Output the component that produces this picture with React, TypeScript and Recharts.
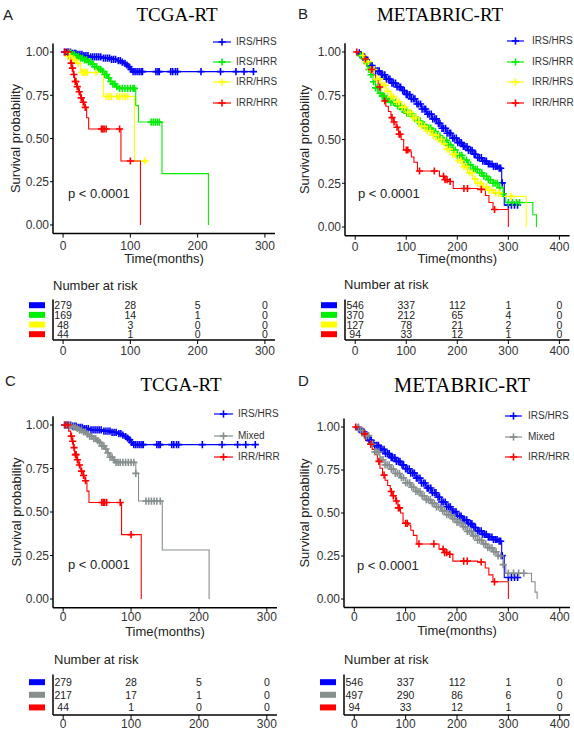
import React from 'react';
import { ComposedChart, Line, Scatter, XAxis, YAxis } from 'recharts';

type Pt = [number, number];

// ---- TCGA-RT: step points [time, survival] and censor times ----
const tcgaIrsHrsSteps: Pt[] = [
  [0, 1], [14, 0.993], [22, 0.986], [30, 0.979], [40, 0.972], [58, 0.965], [70, 0.958],
  [80, 0.95], [86, 0.942], [90, 0.934], [93, 0.925], [96, 0.915], [99, 0.9], [102, 0.887], [283, 0.887],
];
const tcgaIrsHrsCensor = [
  2, 5, 8, 11, 14, 17, 19, 22, 25, 28, 31, 34, 37, 41, 44, 47, 50, 53, 56, 60, 63, 66, 69, 72, 75,
  78, 82, 85, 88, 92, 95, 98, 101, 104, 107, 110, 113, 116, 118, 138, 141, 143, 160, 163, 167, 170,
  205, 234, 257, 269, 283,
];
const tcgaIrsHrrSteps: Pt[] = [
  [0, 1], [6, 0.994], [12, 0.985], [18, 0.975], [24, 0.965], [30, 0.955], [36, 0.943], [42, 0.93],
  [47, 0.915], [52, 0.9], [57, 0.888], [62, 0.87], [66, 0.85], [70, 0.83], [74, 0.815], [78, 0.8],
  [82, 0.79], [108, 0.69], [112, 0.595], [147, 0.297], [216, 0],
];
const tcgaIrsHrrCensor = [
  8, 11, 14, 17, 20, 23, 26, 29, 32, 35, 38, 41, 44, 47, 50, 53, 56, 59, 62, 65, 68, 71, 74, 77,
  80, 84, 88, 92, 96, 100, 104, 106, 131, 134, 137, 140, 143,
];
const tcgaIrrHrsSteps: Pt[] = [
  [0, 1], [5, 0.978], [12, 0.957], [20, 0.935], [26, 0.882], [60, 0.743], [106, 0.37], [122, 0.37],
];
const tcgaIrrHrsCensor = [7, 10, 14, 17, 22, 28, 31, 34, 36, 49, 64, 68, 72, 80, 84, 88, 92, 96, 122];
const tcgaIrrHrrSteps: Pt[] = [
  [0, 1], [8, 0.965], [11, 0.936], [13, 0.907], [15, 0.87], [17, 0.83], [20, 0.8], [23, 0.77],
  [26, 0.735], [29, 0.71], [32, 0.68], [35, 0.62], [38, 0.555], [86, 0.37], [115, 0],
];
const tcgaIrrHrrCensor = [3, 7, 12, 14, 16, 18, 19, 21, 24, 27, 30, 33, 57, 59, 61, 64, 84, 100];
const tcgaMixedSteps: Pt[] = [
  [0, 1], [8, 0.995], [14, 0.988], [19, 0.98], [24, 0.97], [29, 0.96], [34, 0.948], [39, 0.935],
  [44, 0.922], [49, 0.91], [53, 0.9], [57, 0.88], [61, 0.862], [65, 0.84], [69, 0.815], [73, 0.8],
  [77, 0.785], [107, 0.722], [111, 0.563], [146, 0.282], [215, 0],
];
const tcgaMixedCensor = [
  3, 6, 9, 12, 15, 18, 21, 24, 27, 30, 33, 36, 39, 42, 45, 48, 51, 54, 57, 60, 63, 66, 69, 72, 75,
  78, 81, 84, 88, 92, 96, 100, 104, 107, 122, 126, 130, 134, 138, 143,
];

// ---- METABRIC-RT ----
const metaIrsHrsSteps: Pt[] = [
  [0, 1], [5, 0.995], [10, 0.985], [15, 0.97], [20, 0.955], [25, 0.94], [30, 0.922], [35, 0.905],
  [40, 0.893], [50, 0.87], [60, 0.845], [70, 0.822], [80, 0.8], [90, 0.78], [100, 0.757],
  [110, 0.732], [120, 0.703], [130, 0.674], [140, 0.645], [150, 0.618], [160, 0.592], [170, 0.564],
  [180, 0.536], [190, 0.508], [200, 0.482], [210, 0.46], [220, 0.438], [230, 0.416], [240, 0.396],
  [250, 0.376], [260, 0.36], [270, 0.346], [280, 0.336], [287, 0.252], [292, 0.125], [320, 0.125],
];
const metaIrsHrsCensor = [
  8, 11, 15, 19, 22, 26, 30, 33, 37, 40, 44, 47, 51, 54, 58, 61, 65, 68, 72, 75, 79, 82, 86, 89,
  93, 96, 100, 103, 107, 110, 114, 117, 121, 124, 128, 131, 135, 138, 142, 145, 149, 152, 156,
  159, 163, 166, 170, 173, 177, 180, 184, 187, 191, 194, 198, 201, 205, 208, 212, 215, 219, 222,
  226, 229, 233, 236, 240, 243, 247, 250, 254, 257, 261, 264, 268, 271, 275, 278, 282, 285, 288,
  300, 306, 312, 318,
];
const metaIrsHrrSteps: Pt[] = [
  [0, 1], [10, 0.98], [15, 0.96], [20, 0.935], [25, 0.9], [30, 0.87], [35, 0.83], [40, 0.795],
  [45, 0.765], [50, 0.748], [60, 0.73], [70, 0.712], [80, 0.692], [90, 0.672], [100, 0.65],
  [110, 0.628], [120, 0.606], [130, 0.585], [140, 0.565], [150, 0.545], [160, 0.52], [170, 0.495],
  [180, 0.468], [190, 0.44], [200, 0.41], [210, 0.382], [220, 0.355], [230, 0.33], [240, 0.31],
  [250, 0.29], [260, 0.27], [270, 0.25], [280, 0.225], [290, 0.19], [295, 0.14], [342, 0.14],
  [348, 0.07], [355, 0],
];
const metaIrsHrrCensor = [
  10, 14, 18, 23, 27, 31, 36, 40, 44, 49, 53, 57, 62, 66, 70, 75, 79, 83, 88, 92, 96, 101, 105,
  109, 114, 118, 122, 127, 131, 135, 140, 144, 148, 153, 157, 161, 166, 170, 174, 179, 183, 187,
  192, 196, 200, 205, 209, 213, 218, 222, 226, 231, 235, 239, 244, 248, 252, 257, 261, 265, 270,
  274, 278, 283, 290, 300, 308, 316, 322,
];
const metaIrrHrsSteps: Pt[] = [
  [0, 1], [10, 0.98], [20, 0.945], [30, 0.9], [40, 0.845], [50, 0.81], [60, 0.775], [70, 0.745],
  [80, 0.715], [90, 0.685], [100, 0.655], [110, 0.625], [120, 0.6], [130, 0.575], [140, 0.55],
  [150, 0.525], [160, 0.5], [170, 0.475], [180, 0.445], [190, 0.415], [200, 0.38], [210, 0.345],
  [220, 0.31], [230, 0.275], [240, 0.25], [250, 0.23], [260, 0.21], [270, 0.195], [285, 0.175],
  [335, 0],
];
const metaIrrHrsCensor = [
  15, 20, 26, 31, 37, 42, 48, 53, 59, 64, 70, 75, 81, 86, 92, 97, 103, 108, 114, 119, 125, 130,
  136, 141, 147, 152, 158, 163, 169, 174, 180, 185, 191, 196, 202, 207, 213, 218, 224, 229, 235,
  240, 246, 251, 257, 262, 268, 275, 282, 305,
];
const metaIrrHrrSteps: Pt[] = [
  [0, 1], [12, 0.99], [18, 0.96], [22, 0.92], [28, 0.9], [35, 0.87], [40, 0.84], [45, 0.8],
  [50, 0.76], [55, 0.72], [60, 0.69], [65, 0.66], [70, 0.625], [75, 0.6], [80, 0.57], [85, 0.53],
  [90, 0.5], [95, 0.44], [105, 0.43], [110, 0.4], [115, 0.37], [122, 0.32], [155, 0.32],
  [165, 0.29], [175, 0.27], [185, 0.26], [192, 0.22], [240, 0.215], [255, 0.18], [262, 0.14],
  [270, 0.1], [300, 0],
];
const metaIrrHrrCensor = [
  3, 20, 32, 48, 58, 72, 76, 82, 86, 88, 100, 103, 126, 155, 173, 176, 180, 186, 213, 220, 247, 273,
];
const metaMixedSteps: Pt[] = [
  [0, 1], [10, 0.98], [20, 0.95], [30, 0.9], [40, 0.855], [50, 0.81], [60, 0.78], [70, 0.755],
  [80, 0.73], [90, 0.705], [100, 0.675], [110, 0.65], [120, 0.625], [130, 0.6], [140, 0.578],
  [150, 0.556], [160, 0.535], [170, 0.512], [180, 0.49], [190, 0.467], [200, 0.445], [210, 0.42],
  [220, 0.393], [230, 0.367], [240, 0.342], [250, 0.32], [260, 0.298], [270, 0.275], [280, 0.25],
  [290, 0.2], [295, 0.15], [335, 0.15], [345, 0.1], [352, 0.04], [356, 0],
];
const metaMixedCensor = [
  8, 12, 16, 20, 24, 28, 32, 36, 40, 44, 48, 52, 56, 60, 64, 68, 72, 76, 80, 84, 88, 92, 96, 100,
  104, 108, 112, 116, 120, 124, 128, 132, 136, 140, 144, 148, 152, 156, 160, 164, 168, 172, 176,
  180, 184, 188, 192, 196, 200, 204, 208, 212, 216, 220, 224, 228, 232, 236, 240, 244, 248, 252,
  256, 260, 264, 268, 272, 276, 280, 285, 290, 300, 310, 320, 330,
];

// ---- number at risk ----
const tcgaTimes = [0, 100, 200, 300];
const metaTimes = [0, 100, 200, 300, 400];
const tcgaRiskIrsHrs = [279, 28, 5, 0];
const tcgaRiskIrsHrr = [169, 14, 1, 0];
const tcgaRiskIrrHrs = [48, 3, 0, 0];
const tcgaRiskIrrHrr = [44, 1, 0, 0];
const tcgaRiskMixed = [217, 17, 1, 0];
const metaRiskIrsHrs = [546, 337, 112, 1, 0];
const metaRiskIrsHrr = [370, 212, 65, 4, 0];
const metaRiskIrrHrs = [127, 78, 21, 2, 0];
const metaRiskIrrHrr = [94, 33, 12, 1, 0];
const metaRiskMixed = [497, 290, 86, 6, 0];

const BLUE = '#0000ff';
const GREEN = '#00ee00';
const YELLOW = '#ffff00';
const RED = '#ff0000';
const GRAY = '#868e8e';

const SANS = '"Liberation Sans", Arial, Helvetica, sans-serif';
const SERIF = '"Liberation Serif", "Times New Roman", serif';

interface Curve {
  name: string;
  color: string;
  steps: Pt[];
  censor: number[];
}

function survAt(steps: Pt[], t: number) {
  let s = steps[0][1];
  for (const [ti, si] of steps) {
    if (ti <= t) s = si;
    else break;
  }
  return s;
}

function Cross({ cx, cy, color }: { cx?: number; cy?: number; color: string }) {
  if (cx == null || cy == null) return null;
  const r = 3.6;
  return (
    <g>
      <line x1={cx - r} x2={cx + r} y1={cy} y2={cy} stroke={color} strokeWidth={1.6} />
      <line x1={cx} x2={cx} y1={cy - r} y2={cy + r} stroke={color} strokeWidth={1.6} />
    </g>
  );
}

// text placed by its visual centre
function Txt({ x, y, size, children, serif, anchor = 'start', color = '#222' }: any) {
  const k = serif ? 0.506 : 0.49;
  return (
    <div
      style={{
        position: 'absolute',
        left: x,
        top: y - size * k,
        fontSize: size,
        lineHeight: `${size}px`,
        fontFamily: serif ? SERIF : SANS,
        color,
        whiteSpace: 'nowrap',
        transform: anchor === 'middle' ? 'translateX(-50%)' : undefined,
      }}
    >
      {children}
    </div>
  );
}

interface KMGeom {
  left: number; top: number; w: number; h: number;
  axisX: number; plotRight: number; plotTop: number; plotBottom: number;
  tickGap: number; timeBase: number; yLabelX: number;
}

function KMChart({ g, curves, xMax, ticks }: { g: KMGeom; curves: Curve[]; xMax: number; ticks: number[] }) {
  const pad = xMax * 0.05;
  const axisText = { fontSize: 12, fill: '#333', fontFamily: SANS };
  return (
    <div style={{ position: 'absolute', left: g.left, top: g.top, width: g.w, height: g.h }}>
      <ComposedChart
        width={g.w}
        height={g.h}
        margin={{ top: g.plotTop - g.top, right: g.left + g.w - g.plotRight, bottom: 0, left: 0 }}
      >
        <XAxis
          type="number"
          dataKey="t"
          domain={[-pad, xMax + pad]}
          ticks={ticks}
          interval={0}
          allowDataOverflow
          height={g.top + g.h - g.plotBottom}
          stroke="#000"
          axisLine={{ strokeWidth: 1.5 }}
          tickSize={4}
          tickMargin={g.tickGap - 4}
          tick={axisText}
          label={{
            value: 'Time(months)',
            position: 'insideBottom',
            offset: g.top + g.h - g.timeBase,
            style: { fontSize: 13, fill: '#222', fontFamily: SANS },
          }}
        />
        <YAxis
          type="number"
          dataKey="s"
          domain={[-0.05, 1.05]}
          ticks={[0, 0.25, 0.5, 0.75, 1]}
          interval={0}
          tickFormatter={(v: number) => v.toFixed(2)}
          allowDataOverflow
          width={g.axisX - g.left}
          stroke="#000"
          axisLine={{ strokeWidth: 1.5 }}
          tickSize={3}
          tickMargin={1}
          tick={axisText}
          label={{
            value: 'Survival probability',
            angle: -90,
            position: 'insideLeft',
            offset: g.yLabelX - g.left,
            style: { fontSize: 13, fill: '#222', fontFamily: SANS, textAnchor: 'middle' },
          }}
        />
        {curves.map((c) => (
          <Line
            key={'l' + c.name}
            data={c.steps.map(([t, s]) => ({ t, s }))}
            dataKey="s"
            type="stepAfter"
            stroke={c.color}
            strokeWidth={1.1}
            dot={false}
            activeDot={false}
            isAnimationActive={false}
          />
        ))}
        {curves.map((c) => (
          <Scatter
            key={'c' + c.name}
            data={c.censor.map((t) => ({ t, s: survAt(c.steps, t) }))}
            shape={(p: any) => <Cross cx={p.cx} cy={p.cy} color={c.color} />}
            isAnimationActive={false}
          />
        ))}
      </ComposedChart>
    </div>
  );
}

function KMLegend({ curves, x1, x2, textX, ys }: { curves: Curve[]; x1: number; x2: number; textX: number; ys: number[] }) {
  return (
    <>
      {curves.map((c, i) => (
        <React.Fragment key={c.name}>
          <svg
            width={x2 - x1 + 2}
            height={10}
            style={{ position: 'absolute', left: x1 - 1, top: ys[i] - 5, overflow: 'visible' }}
          >
            <line x1={1} x2={x2 - x1 + 1} y1={5} y2={5} stroke={c.color} strokeWidth={1.2} />
            <Cross cx={(x2 - x1) / 2 + 1} cy={5} color={c.color} />
          </svg>
          <Txt x={textX} y={ys[i]} size={10} color="#333">{c.name}</Txt>
        </React.Fragment>
      ))}
    </>
  );
}

interface RiskGeom {
  left: number; top: number; w: number; h: number;
  axisX: number; plotRight: number; plotTop: number; plotBottom: number; tickGap: number;
}

function RiskTable({ g, rows, times, xMax }: { g: RiskGeom; rows: { color: string; counts: number[] }[]; times: number[]; xMax: number }) {
  const n = rows.length;
  const pad = xMax * 0.05;
  const cells = rows.flatMap((r, i) => times.map((t, j) => ({ t, row: n - i, count: r.counts[j] })));
  const rowTicks = rows.map((_, i) => i + 1);
  return (
    <div style={{ position: 'absolute', left: g.left, top: g.top, width: g.w, height: g.h }}>
      <ComposedChart
        width={g.w}
        height={g.h}
        margin={{ top: g.plotTop - g.top, right: g.left + g.w - g.plotRight, bottom: 0, left: 0 }}
      >
        <XAxis
          type="number"
          dataKey="t"
          domain={[-pad, xMax + pad]}
          ticks={times}
          interval={0}
          allowDataOverflow
          height={g.top + g.h - g.plotBottom}
          stroke="#000"
          axisLine={{ strokeWidth: 1.5 }}
          tickSize={4}
          tickMargin={g.tickGap - 4}
          tick={{ fontSize: 12, fill: '#333', fontFamily: SANS }}
        />
        <YAxis
          type="number"
          dataKey="row"
          domain={[0.4, n + 0.6]}
          ticks={rowTicks}
          interval={0}
          width={g.axisX - g.left}
          stroke="#000"
          axisLine={{ strokeWidth: 1.5 }}
          tickLine={false}
          tickSize={0}
          tickMargin={8}
          tick={(p: any) => (
            <rect x={p.x - 16} y={p.y - 3} width={16} height={6} fill={rows[n - p.payload.value].color} />
          )}
        />
        <Scatter
          data={cells}
          isAnimationActive={false}
          shape={(p: any) => (
            <text
              x={p.cx}
              y={p.cy}
              textAnchor="middle"
              dominantBaseline="central"
              fontSize={10.5}
              fontFamily={SANS}
              fill="#222"
            >
              {p.payload.count}
            </text>
          )}
        />
      </ComposedChart>
    </div>
  );
}

const tIrsHrs: Curve = { name: 'IRS/HRS', color: BLUE, steps: tcgaIrsHrsSteps, censor: tcgaIrsHrsCensor };
const tIrsHrr: Curve = { name: 'IRS/HRR', color: GREEN, steps: tcgaIrsHrrSteps, censor: tcgaIrsHrrCensor };
const tIrrHrs: Curve = { name: 'IRR/HRS', color: YELLOW, steps: tcgaIrrHrsSteps, censor: tcgaIrrHrsCensor };
const tIrrHrr: Curve = { name: 'IRR/HRR', color: RED, steps: tcgaIrrHrrSteps, censor: tcgaIrrHrrCensor };
const tMixed: Curve = { name: 'Mixed', color: GRAY, steps: tcgaMixedSteps, censor: tcgaMixedCensor };
const mIrsHrs: Curve = { name: 'IRS/HRS', color: BLUE, steps: metaIrsHrsSteps, censor: metaIrsHrsCensor };
const mIrsHrr: Curve = { name: 'IRS/HRR', color: GREEN, steps: metaIrsHrrSteps, censor: metaIrsHrrCensor };
const mIrrHrs: Curve = { name: 'IRR/HRS', color: YELLOW, steps: metaIrrHrsSteps, censor: metaIrrHrsCensor };
const mIrrHrr: Curve = { name: 'IRR/HRR', color: RED, steps: metaIrrHrrSteps, censor: metaIrrHrrCensor };
const mMixed: Curve = { name: 'Mixed', color: GRAY, steps: metaMixedSteps, censor: metaMixedCensor };

export default function App() {
  return (
    <div style={{ position: 'absolute', left: 0, top: 0, width: 574, height: 733, background: '#fff', overflow: 'hidden' }}>
      {/* A */}
      <KMChart
        g={{ left: 0, top: 0, w: 290, h: 270, axisX: 53, plotRight: 275, plotTop: 43.4, plotBottom: 233.6, tickGap: 8, timeBase: 263, yLabelX: 15 }}
        curves={[tIrsHrs, tIrsHrr, tIrrHrs, tIrrHrr]}
        xMax={300}
        ticks={tcgaTimes}
      />
      <Txt x={3} y={14.5} size={15}>A</Txt>
      <Txt x={177} y={15} size={19} serif anchor="middle" color="#000">TCGA-RT</Txt>
      <Txt x={68} y={193} size={13}>p &lt; 0.0001</Txt>
      <KMLegend curves={[tIrsHrs, tIrsHrr, tIrrHrs, tIrrHrr]} x1={213} x2={231} textX={236} ys={[42, 62, 82, 103]} />
      <Txt x={53} y={285} size={13}>Number at risk</Txt>
      <RiskTable
        g={{ left: 0, top: 280, w: 290, h: 80, axisX: 53, plotRight: 275, plotTop: 299.4, plotBottom: 340, tickGap: 6 }}
        rows={[
          { color: BLUE, counts: tcgaRiskIrsHrs },
          { color: GREEN, counts: tcgaRiskIrsHrr },
          { color: YELLOW, counts: tcgaRiskIrrHrs },
          { color: RED, counts: tcgaRiskIrrHrr },
        ]}
        times={tcgaTimes}
        xMax={300}
      />

      {/* B */}
      <KMChart
        g={{ left: 290, top: 0, w: 284, h: 270, axisX: 345, plotRight: 569.6, plotTop: 43.25, plotBottom: 235.75, tickGap: 6.5, timeBase: 263, yLabelX: 304 }}
        curves={[mIrsHrs, mIrsHrr, mIrrHrs, mIrrHrr]}
        xMax={400}
        ticks={metaTimes}
      />
      <Txt x={298} y={13} size={15}>B</Txt>
      <Txt x={440} y={15} size={19} serif anchor="middle" color="#000">METABRIC-RT</Txt>
      <Txt x={358} y={193} size={13}>p &lt; 0.0001</Txt>
      <KMLegend curves={[mIrsHrs, mIrsHrr, mIrrHrs, mIrrHrr]} x1={507} x2={524} textX={532} ys={[41, 62, 82, 103]} />
      <Txt x={344} y={284} size={13}>Number at risk</Txt>
      <RiskTable
        g={{ left: 290, top: 280, w: 284, h: 80, axisX: 345, plotRight: 569.6, plotTop: 299.4, plotBottom: 340, tickGap: 6 }}
        rows={[
          { color: BLUE, counts: metaRiskIrsHrs },
          { color: GREEN, counts: metaRiskIrsHrr },
          { color: YELLOW, counts: metaRiskIrrHrs },
          { color: RED, counts: metaRiskIrrHrr },
        ]}
        times={metaTimes}
        xMax={400}
      />

      {/* C */}
      <KMChart
        g={{ left: 0, top: 370, w: 290, h: 272, axisX: 53, plotRight: 277, plotTop: 416.3, plotBottom: 607.7, tickGap: 5, timeBase: 636, yLabelX: 16 }}
        curves={[tIrsHrs, tMixed, tIrrHrr]}
        xMax={300}
        ticks={tcgaTimes}
      />
      <Txt x={5} y={380} size={15}>C</Txt>
      <Txt x={181} y={385} size={19} serif anchor="middle" color="#000">TCGA-RT</Txt>
      <Txt x={68} y={564} size={13}>p &lt; 0.0001</Txt>
      <KMLegend curves={[tIrsHrs, tMixed, tIrrHrr]} x1={214} x2={233} textX={238} ys={[414, 436, 457]} />
      <Txt x={54} y={659} size={13}>Number at risk</Txt>
      <RiskTable
        g={{ left: 0, top: 655, w: 290, h: 78, axisX: 53, plotRight: 277, plotTop: 674.6, plotBottom: 715, tickGap: 4 }}
        rows={[
          { color: BLUE, counts: tcgaRiskIrsHrs },
          { color: GRAY, counts: tcgaRiskMixed },
          { color: RED, counts: tcgaRiskIrrHrr },
        ]}
        times={tcgaTimes}
        xMax={300}
      />

      {/* D */}
      <KMChart
        g={{ left: 290, top: 370, w: 284, h: 272, axisX: 344, plotRight: 570, plotTop: 418.4, plotBottom: 607.6, tickGap: 5, timeBase: 635, yLabelX: 304 }}
        curves={[mIrsHrs, mMixed, mIrrHrr]}
        xMax={400}
        ticks={metaTimes}
      />
      <Txt x={298} y={380} size={15}>D</Txt>
      <Txt x={462} y={385} size={20.5} serif anchor="middle" color="#000">METABRIC-RT</Txt>
      <Txt x={357} y={565} size={13}>p &lt; 0.0001</Txt>
      <KMLegend curves={[mIrsHrs, mMixed, mIrrHrr]} x1={505} x2={522} textX={528} ys={[416, 437, 457]} />
      <Txt x={344} y={659} size={13}>Number at risk</Txt>
      <RiskTable
        g={{ left: 290, top: 655, w: 284, h: 78, axisX: 344, plotRight: 570, plotTop: 674.6, plotBottom: 715, tickGap: 4 }}
        rows={[
          { color: BLUE, counts: metaRiskIrsHrs },
          { color: GRAY, counts: metaRiskMixed },
          { color: RED, counts: metaRiskIrrHrr },
        ]}
        times={metaTimes}
        xMax={400}
      />
    </div>
  );
}
